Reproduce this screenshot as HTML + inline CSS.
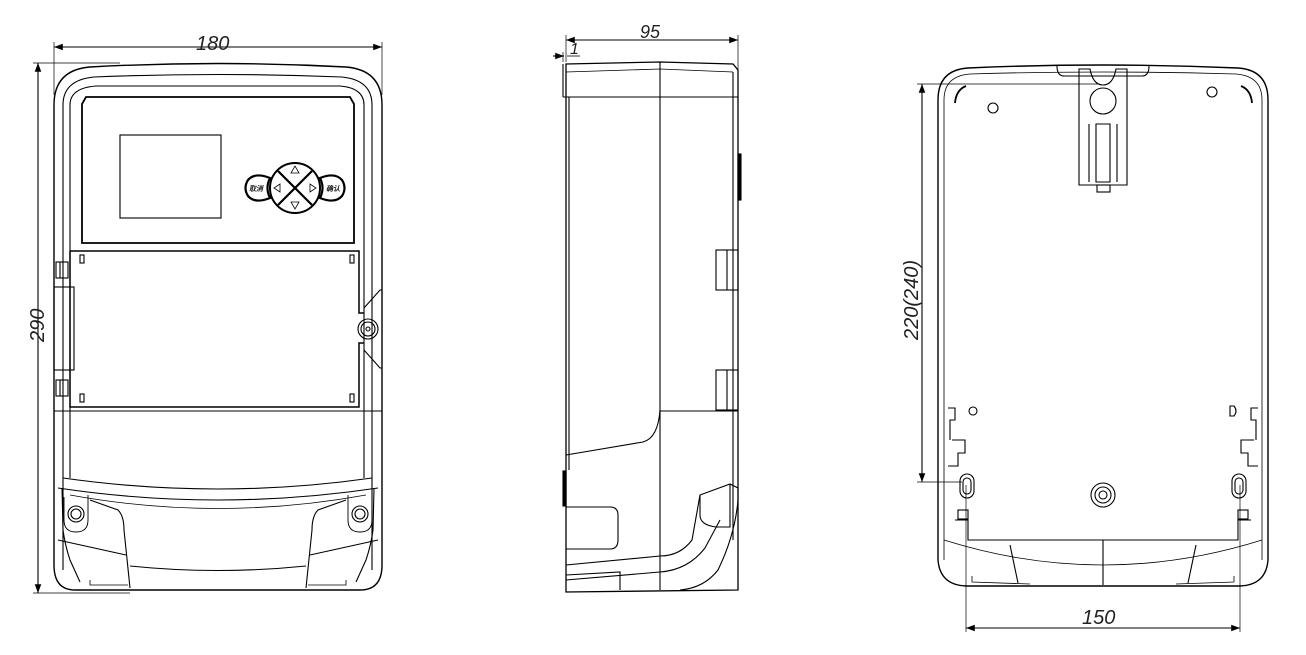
<!DOCTYPE html>
<html><head><meta charset="utf-8"><style>
html,body{margin:0;padding:0;background:#fff;}
svg{display:block;}
text{font-family:"Liberation Sans","DejaVu Sans",sans-serif;font-style:italic;fill:#222;}
</style></head><body>
<svg width="1306" height="655" viewBox="0 0 1306 655" xmlns="http://www.w3.org/2000/svg">
<defs>
<marker id="a" markerWidth="8" markerHeight="6" refX="8" refY="3" orient="auto"><path d="M0,0L8,3L0,6z" fill="#000"/></marker>
<marker id="b" markerWidth="8" markerHeight="6" refX="0" refY="3" orient="auto"><path d="M8,0L0,3L8,6z" fill="#000"/></marker>
</defs>
<g fill="none" stroke="#000" stroke-width="1.1">
<!-- ===== FRONT VIEW ===== -->
<line x1="54" y1="47" x2="382" y2="47" marker-start="url(#b)" marker-end="url(#a)"/>
<line x1="54" y1="42" x2="54" y2="95" stroke-width="0.7"/>
<line x1="382" y1="42" x2="382" y2="95" stroke-width="0.7"/>
<line x1="38" y1="63" x2="38" y2="593" marker-start="url(#b)" marker-end="url(#a)"/>
<line x1="33" y1="63" x2="120" y2="63" stroke-width="0.7"/>
<line x1="33" y1="593" x2="130" y2="593" stroke-width="0.7"/>
<path d="M54,105 Q54,70 90,67 Q218,60 346,67 Q382,70 382,105 L382,565 Q382,590 360,590 L75,590 Q54,590 54,565 Z" stroke-width="1.4"/>
<path d="M63,105 Q63,80 94,77 Q218,72 342,77 Q372,80 372,105 L372,570" />
<path d="M63,105 L63,570"/>
<path d="M70,105 Q70,88 96,86 L340,86 Q364,88 364,105 L364,478"/>
<path d="M70,105 L70,478"/>
<!-- display panel -->
<path d="M82,104 L86,97 L350,97 L354,104 L354,243 L82,243 Z" stroke-width="1.8"/>
<rect x="120" y="135" width="101" height="83"/>
<!-- buttons -->
<circle cx="295" cy="188" r="25" stroke-width="2"/>
<line x1="278" y1="171" x2="312" y2="205" stroke-width="2.2"/>
<line x1="312" y1="171" x2="278" y2="205" stroke-width="2.2"/>
<path d="M270,178 Q255,172 248,180 Q243,188 248,196 Q255,204 270,198 Q265,188 270,178Z" stroke-width="2.2"/>
<path d="M320,178 Q335,172 342,180 Q347,188 342,196 Q335,204 320,198 Q325,188 320,178Z" stroke-width="2.2"/>
<path d="M291,173 L299,173 L295,166Z M291,202 L299,202 L295,209Z M280,184 L280,192 L274,188Z M310,184 L310,192 L316,188Z" stroke-width="0.8"/>
<!-- terminal cover -->
<path d="M70,251 L359,251 L359,313 L364,313 M364,343 L359,343 L359,407 L70,407 L70,251" stroke-width="1.5"/>
<line x1="54" y1="411" x2="382" y2="411"/>
<rect x="80" y="255" width="4" height="8"/><rect x="350" y="255" width="4" height="8"/>
<rect x="80" y="394" width="4" height="8"/><rect x="350" y="394" width="4" height="8"/>
<rect x="56" y="262" width="12" height="16"/><rect x="56" y="380" width="12" height="16"/>
<line x1="60" y1="262" x2="60" y2="278"/><line x1="60" y1="380" x2="60" y2="396"/>
<rect x="54" y="287" width="20" height="83"/>
<circle cx="368" cy="329" r="10"/><circle cx="368" cy="329" r="7"/><circle cx="368" cy="329" r="2"/>
<path d="M364,308 L380,290 L382,290 M364,350 L380,368 L382,368"/>
<!-- bottom section -->
<path d="M63,478 Q218,500 372,478"/>
<path d="M58,488 Q218,512 378,488"/>
<path d="M70,495 Q218,522 366,495" stroke-width="0.8"/>
<path d="M62,488 L63,530 Q65,545 70,560 L80,582" />
<path d="M374,488 L373,530 Q371,545 366,560 L356,582"/>
<path d="M88,495 L88,520 Q88,532 76,532 Q64,532 64,520 L64,497" stroke-width="0.9"/>
<path d="M348,495 L348,520 Q348,532 360,532 Q372,532 372,520 L372,497" stroke-width="0.9"/>
<circle cx="76" cy="514" r="8"/><circle cx="76" cy="514" r="5"/>
<circle cx="360" cy="514" r="8"/><circle cx="360" cy="514" r="5"/>
<path d="M90,500 L118,510 Q124,516 124,530 L130,588"/>
<path d="M346,500 L318,510 Q312,516 312,530 L306,588"/>
<path d="M130,566 Q218,575 306,566"/>
<path d="M58,540 L126,555 M378,540 L310,555"/>
<path d="M90,580 L90,585 L128,585 M346,580 L346,585 L308,585" stroke-width="0.8"/>
<!-- ===== SIDE VIEW ===== -->
<line x1="566" y1="40" x2="738" y2="40" marker-start="url(#b)" marker-end="url(#a)"/>
<line x1="566" y1="35" x2="566" y2="62" stroke-width="0.7"/>
<line x1="738" y1="35" x2="738" y2="97" stroke-width="0.7"/>
<line x1="553" y1="56" x2="564" y2="56" marker-end="url(#a)"/>
<line x1="567" y1="56" x2="580" y2="56" stroke-width="0.8"/>
<line x1="563" y1="52" x2="563" y2="62" stroke-width="0.7"/>
<path d="M566,64 L660,62 L733,64 L738,70 L738,590 L566,592 Z" stroke-width="1.3"/>
<path d="M566,72 L660,69 L733,72" stroke-width="0.8"/>
<line x1="563" y1="64" x2="563" y2="97"/>
<line x1="563" y1="97" x2="738" y2="97"/>
<line x1="569" y1="97" x2="569" y2="470"/>
<line x1="660" y1="62" x2="660" y2="590"/>
<line x1="733" y1="72" x2="733" y2="540"/>
<rect x="738" y="154" width="3" height="46" fill="#000"/>
<rect x="716" y="250" width="22" height="40"/><line x1="727" y1="250" x2="727" y2="290"/>
<rect x="716" y="370" width="22" height="40"/><line x1="727" y1="370" x2="727" y2="410"/>
<line x1="660" y1="411" x2="738" y2="411"/>
<path d="M566,455 L643,442 Q658,438 660,410"/>
<rect x="563" y="471" width="3" height="35" fill="#000"/>
<path d="M566,507 L610,507 Q618,507 618,515 L618,540 Q618,549 610,549 L566,549" />
<path d="M566,565 L660,556 Q680,556 692,540 L700,495 L730,484 L738,488 L738,500 Q735,535 718,570 Q704,588 680,590"/>
<path d="M566,580 L660,572 Q688,570 705,548 L720,520"/>
<path d="M700,495 L700,515 Q700,525 716,527 L730,527 L730,484"/>
<path d="M566,575 L620,572 L620,590"/>
<!-- ===== BACK VIEW ===== -->
<line x1="922" y1="84" x2="922" y2="482" marker-start="url(#b)" marker-end="url(#a)"/>
<line x1="917" y1="84" x2="1100" y2="84" stroke-width="0.7"/>
<line x1="917" y1="482" x2="962" y2="482" stroke-width="0.7"/>
<line x1="966" y1="628" x2="1240" y2="628" marker-start="url(#b)" marker-end="url(#a)"/>
<line x1="966" y1="485" x2="966" y2="632" stroke-width="0.7"/>
<line x1="1240" y1="485" x2="1240" y2="632" stroke-width="0.7"/>
<path d="M938,100 Q938,70 968,68 Q1103,62 1238,68 Q1268,70 1268,100 L1268,560 Q1266,585 1240,586 L966,586 Q940,585 938,560 Z" stroke-width="1.4"/>
<path d="M944,100 Q944,76 970,74 Q1103,70 1236,74 Q1262,76 1262,100 L1262,560 M944,100 L944,560" stroke-width="0.8"/>
<path d="M1057,66 Q1057,76 1064,76 L1142,76 Q1149,76 1149,66" />
<path d="M1079,69 L1090,69 Q1093,85 1103,85 Q1113,85 1116,69 L1127,69 L1127,185 L1079,185 Z"/>
<circle cx="1103" cy="101" r="13"/>
<path d="M1089,124 L1089,182 M1117,124 L1117,182 M1096,124 L1096,182 L1110,182 L1110,124 Z"/>
<rect x="1097" y="185" width="13" height="7"/>
<circle cx="993" cy="108" r="5"/><circle cx="1212" cy="92" r="5"/>
<path d="M955,103 Q956,90 966,86 M1252,103 Q1251,90 1241,86" stroke-width="1.8"/>
<circle cx="973" cy="411" r="4"/>
<path d="M1230,406 L1230,416 L1234,416 Q1238,411 1234,406 Z"/>
<path d="M948,408 L955,408 L955,420 L950,420 L950,440 M1258,408 L1251,408 L1251,420 L1256,420 L1256,440"/>
<path d="M952,440 L965,440 L965,453 L958,453 L958,466 L948,466 M1254,440 L1241,440 L1241,453 L1248,453 L1248,466 L1258,466"/>
<rect x="960" y="474" width="14" height="24" rx="7"/><rect x="963" y="478" width="8" height="16" rx="4"/>
<rect x="1232" y="474" width="14" height="24" rx="7"/><rect x="1235" y="478" width="8" height="16" rx="4"/>
<circle cx="1103" cy="495" r="12"/><circle cx="1103" cy="495" r="8"/><circle cx="1103" cy="495" r="4"/>
<rect x="958" y="510" width="10" height="9"/><rect x="1238" y="510" width="10" height="9"/>
<path d="M955,520 L968,520 L968,540 L1238,540 L1238,520 L1251,520" />
<line x1="1103" y1="540" x2="1103" y2="585"/>
<path d="M944,540 Q1103,590 1262,540" stroke-width="0.8"/>
<path d="M1010,545 L1018,583 M1196,545 L1188,583"/>
<path d="M972,576 L972,582 L1030,584 M1234,576 L1234,582 L1176,584" stroke-width="0.8"/>
</g>
<text x="196" y="50" font-size="20">180</text>
<text x="640" y="38" font-size="18">95</text>
<text x="570" y="54" font-size="16">1</text>
<text x="1082" y="624" font-size="20">150</text>
<text font-size="20" transform="translate(44,342) rotate(-90)">290</text>
<text font-size="20" transform="translate(918,340) rotate(-90)">220(240)</text>
<text x="249" y="191" font-size="7" font-style="normal" font-family="Noto Sans CJK SC,sans-serif" font-weight="bold">取消</text>
<text x="326" y="191" font-size="7" font-style="normal" font-family="Noto Sans CJK SC,sans-serif" font-weight="bold">确认</text>
</svg>
</body></html>
